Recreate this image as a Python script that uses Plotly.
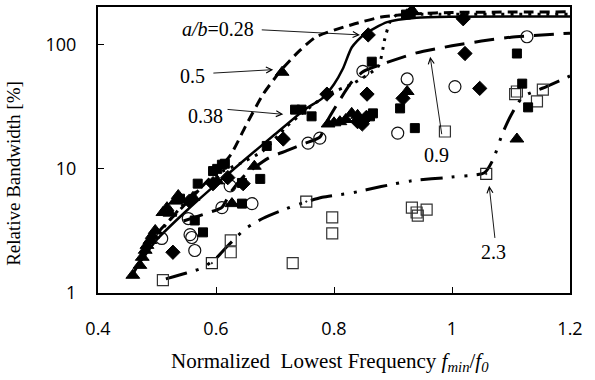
import plotly.graph_objects as go
import math

# ---------------- data ----------------
# curves (a/b parameter)
c028_x = [0.465, 0.50, 0.55, 0.60, 0.65, 0.70, 0.75, 0.78, 0.80, 0.815, 0.83, 0.85, 0.89, 0.94, 1.00, 1.20]
c028_y = [1.6, 2.7, 4.6, 7.5, 12, 19, 30, 37, 48, 64, 95, 120, 152, 165, 168, 169]

c05_x = [0.46, 0.50, 0.55, 0.60, 0.625, 0.65, 0.68, 0.71, 0.74, 0.77, 0.83, 0.88, 0.94, 1.00, 1.20]
c05_y = [1.45, 3.0, 5.3, 9.5, 13, 22, 40, 62, 88, 116, 145, 167, 178, 182, 184]

c038_x = [0.47, 0.50, 0.55, 0.60, 0.64, 0.68, 0.72, 0.75, 0.79, 0.83, 0.875, 0.886, 0.895, 0.907, 0.95, 1.20]
c038_y = [1.7, 2.9, 5.5, 9.0, 11, 14, 22, 29, 40, 48, 67, 111, 153, 175, 176, 176]

c09_x = [0.545, 0.585, 0.61, 0.625, 0.65, 0.69, 0.72, 0.75, 0.776, 0.79, 0.81, 0.83, 0.85, 0.89, 0.94, 1.00, 1.05, 1.10, 1.13, 1.20]
c09_y = [3.8, 4.4, 4.9, 6.5, 9.0, 12.3, 14, 16, 18, 25, 36, 50, 61, 72, 86, 98, 107, 115, 118, 124]

c23_x = [0.515, 0.55, 0.575, 0.60, 0.62, 0.65, 0.68, 0.73, 0.78, 0.83, 0.88, 0.93, 1.00, 1.055, 1.07, 1.085, 1.10, 1.12, 1.16, 1.20]
c23_y = [1.3, 1.45, 1.58, 1.9, 2.4, 3.3, 4.0, 5.0, 5.9, 6.4, 7.2, 8.0, 8.6, 9.3, 12, 19, 27, 38, 46, 56]

# measured points
tri_x = [0.459, 0.471, 0.475, 0.48, 0.483, 0.488, 0.492, 0.497, 0.51, 0.517, 0.522, 0.531, 0.536, 0.561, 0.602,
         0.627, 0.665, 0.712, 0.79, 0.80, 0.81, 0.82, 0.83, 0.84, 0.924, 0.932, 1.11]
tri_y = [1.39, 1.67, 1.94, 2.21, 2.42, 2.65, 2.91, 3.19, 4.45, 4.87, 4.4, 5.5, 6.1, 5.9, 8.0,
         5.25, 10.5, 60, 23, 23.5, 24, 25, 28, 27, 42, 190, 17.4]

sq_x = [0.539, 0.564, 0.569, 0.578, 0.595, 0.602, 0.61, 0.615, 0.644, 0.644, 0.675, 0.686, 0.734, 0.745,
        0.762, 0.861, 0.866, 0.864, 0.912, 0.922, 0.93, 0.937, 1.11, 1.119, 1.129]
sq_y = [5.75, 3.84, 7.6, 3.08, 9.6, 10, 10.8, 11, 7.7, 5.25, 8.3, 15.3, 30, 30,
        26.5, 26.5, 28, 73, 30.7, 175, 178, 21.3, 85, 48.6, 31.3]

dia_x = [0.527, 0.555, 0.595, 0.62, 0.646, 0.714, 0.788, 0.84, 0.848, 0.855, 0.856, 0.858, 0.917, 1.019, 1.022, 1.047]
dia_y = [2.13, 5.5, 7.6, 8.5, 7.6, 17.4, 40, 24, 23, 26, 40, 120, 37, 162, 85, 44.5]

circ_x = [0.508, 0.553, 0.556, 0.559, 0.564, 0.61, 0.624, 0.661, 0.756, 0.776, 0.849, 0.908, 0.924, 1.005, 1.127]
circ_y = [2.75, 3.98, 2.95, 2.8, 2.2, 4.87, 7.3, 5.25, 16.1, 17.7, 61, 19.4, 53, 46, 116]

osq_x = [0.51, 0.625, 0.625, 0.73, 0.797, 0.797, 0.932, 0.94, 0.957, 0.942, 0.988, 1.107, 1.11, 1.144, 1.154]
osq_y = [1.27, 2.65, 2.13, 1.74, 4.06, 3.02, 4.87, 4.45, 4.7, 4.2, 20, 40, 42, 35, 43.5]

dsq_x = [0.593, 0.753, 1.058]
dsq_y = [1.74, 5.45, 9.1]

label_text = ["<i>a/b</i>=0.28", "0.5", "0.38", "0.9", "2.3"]
label_x = [0.603, 0.561, 0.583, 0.974, 1.07]
label_y = [135, 56, 26.5, 13.0, 2.15]
arrow_head_x = [0.844, 0.697, 0.714, 0.963, 1.063]
arrow_head_y = [120, 63, 27.5, 80, 7.3]
arrow_tail_x = [0.675, 0.593, 0.617, 0.983, 1.073]
arrow_tail_y = [132, 59, 30.2, 18.5, 2.7]

# ---------------- figure ----------------
fig = go.Figure()

def curve(x, y, dash, width=3):
    fig.add_trace(go.Scatter(x=x, y=y, mode="lines",
                             line=dict(color="black", width=width, dash=dash, shape="spline", smoothing=0.6),
                             hoverinfo="skip", showlegend=False))

curve(c028_x, c028_y, "solid", 2.5)
curve(c05_x, c05_y, "10px,6px")
curve(c038_x, c038_y, "3px,6px")
curve(c09_x, c09_y, "20px,10px")
curve(c23_x, c23_y, "22px,9px,3px,10px,3px,9px")

def pts(x, y, symbol, size, color="black", lw=1):
    fig.add_trace(go.Scatter(x=x, y=y, mode="markers",
                             marker=dict(symbol=symbol, size=size, color=color,
                                         line=dict(color=color if "open" not in symbol else "#222", width=lw)),
                             showlegend=False))

pts(osq_x, osq_y, "square-open", 11, "#333", 1.2)
pts(dsq_x, dsq_y, "square-open-dot", 11, "#222", 1.2)
pts(circ_x, circ_y, "circle-open", 12, "#111", 1.2)
pts(tri_x, tri_y, "triangle-up", 12)
pts(sq_x, sq_y, "square", 9)
pts(dia_x, dia_y, "diamond", 11)

serif = "Liberation Serif, Times New Roman, serif"
sans = "Open Sans, Liberation Sans, sans-serif"

annotations = []
for t, x, y in zip(label_text, label_x, label_y):
    annotations.append(dict(text=t, x=x, y=math.log10(y), xref="x", yref="y", showarrow=False,
                            font=dict(family=serif, size=20, color="black")))
for hx, hy, tx, ty in zip(arrow_head_x, arrow_head_y, arrow_tail_x, arrow_tail_y):
    annotations.append(dict(text="", x=hx, y=math.log10(hy), ax=tx, ay=math.log10(ty), xref="x", yref="y",
                            axref="x", ayref="y", showarrow=True, arrowhead=5, arrowsize=1.3,
                            arrowwidth=0.9, arrowcolor="black", standoff=0, startstandoff=0))

# axis titles
annotations.append(dict(text="Normalized  Lowest Frequency <i>f<sub>min</sub></i>/<i>f<sub>0</sub></i>",
                        x=0.4915, y=-0.243, xref="paper", yref="paper", showarrow=False,
                        xanchor="center", yanchor="middle",
                        font=dict(family=serif, size=21, color="black")))
annotations.append(dict(text="Relative Bandwidth [%]", x=-0.178, y=0.42, xref="paper", yref="paper",
                        showarrow=False, textangle=-90, xanchor="center", yanchor="middle",
                        font=dict(family=serif, size=19, color="black")))

fig.update_layout(
    width=595, height=380,
    margin=dict(l=98, r=25, t=5, b=87),
    paper_bgcolor="white", plot_bgcolor="white",
    showlegend=False,
    annotations=annotations,
    xaxis=dict(range=[0.4, 1.2], tickvals=[0.4, 0.6, 0.8, 1.0, 1.2], ticktext=["0.4", "0.6", "0.8", "1", "1.2"],
               ticks="inside", ticklen=6, tickwidth=1, tickcolor="black",
               showline=True, linecolor="black", linewidth=2, mirror=True,
               showgrid=False, zeroline=False, ticklabelstandoff=18,
               tickfont=dict(family=sans, size=18, color="black")),
    yaxis=dict(type="log", range=[0, 2.304], tickvals=[1, 10, 100], ticktext=["1", "10", "100"],
               ticks="inside", ticklen=6, tickwidth=1, tickcolor="black",
               showline=True, linecolor="black", linewidth=2, mirror=True,
               showgrid=False, zeroline=False, ticklabelstandoff=16,
               tickfont=dict(family=sans, size=18, color="black")),
)

fig.write_html("out.html")
